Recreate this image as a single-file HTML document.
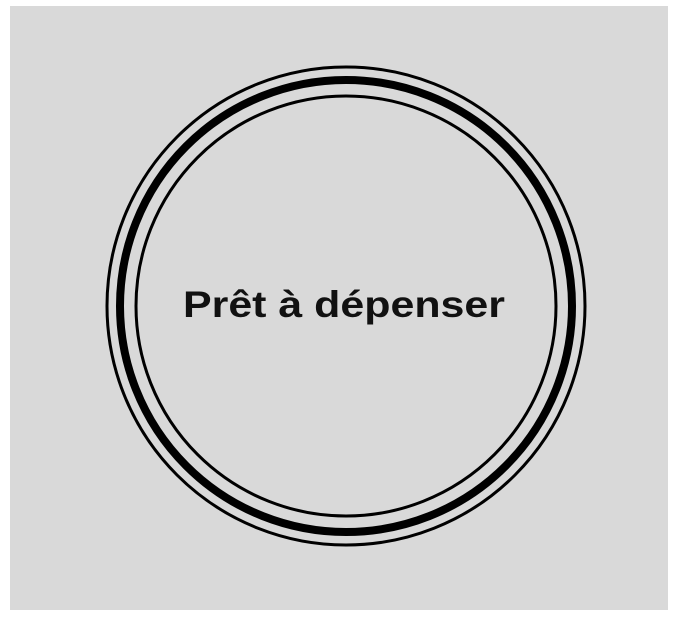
<!DOCTYPE html>
<html><head><meta charset="utf-8"><style>
html,body{margin:0;padding:0;background:#fff;width:678px;height:618px;overflow:hidden}
</style></head><body>
<svg width="678" height="618" viewBox="0 0 678 618" xmlns="http://www.w3.org/2000/svg">
<rect x="10" y="6" width="658" height="604" fill="#d9d9d9"/>
<circle cx="346" cy="306" r="239" fill="none" stroke="#000" stroke-width="3"/>
<circle cx="346" cy="306" r="226" fill="none" stroke="#000" stroke-width="8"/>
<circle cx="346" cy="306" r="210" fill="none" stroke="#000" stroke-width="3"/>
<text x="344" y="317" text-anchor="middle" font-family="'Liberation Sans', sans-serif" font-weight="bold" font-size="37" fill="#111" textLength="322" lengthAdjust="spacingAndGlyphs">Prêt à dépenser</text>
</svg>
</body></html>
